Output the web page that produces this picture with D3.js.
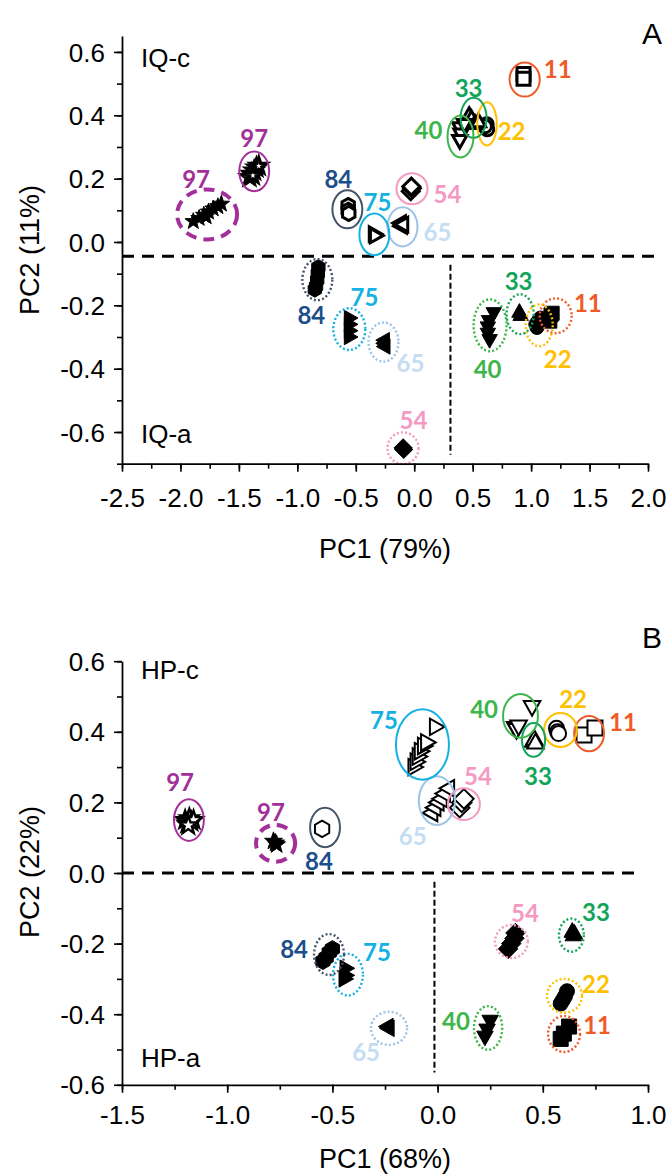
<!DOCTYPE html>
<html>
<head>
<meta charset="utf-8">
<script src="https://cdn.jsdelivr.net/npm/d3@7"></script>
<style>
  body { margin: 0; background: #fff; }
  svg { display: block; }
</style>
</head>
<body>
<svg id="chart" width="667" height="1176"></svg>
<script>
// ---- age groups ----
const ages = ["11", "22", "33", "40", "54", "65", "75", "84", "97"];
const markerShapes = ["square", "circle", "triUp", "triDown", "diamond", "triLeft", "triRight", "hexagon", "star"];
const labelColors = ["#F05A28", "#FFC000", "#12A55A", "#3DB54A", "#F49AC2", "#C5DDF2", "#14B2E2", "#1B4E8A", "#A3309A"];
const ringColors  = ["#EE5A2A", "#FFC000", "#12A55A", "#3DB54A", "#F49AC2", "#9DC3E6", "#14B2E2", "#44546A", "#A3309A"];

// ---- IQ scores: [age, state, PC1, PC2]; state c = IQ-c, d = second 97 set, a = IQ-a ----
const iqScores = [
  ["11","c",0.935,0.530],["11","c",0.935,0.515],
  ["22","c",0.620,0.372],["22","c",0.625,0.356],["22","c",0.605,0.365],
  ["33","c",0.470,0.400],["33","c",0.490,0.390],["33","c",0.520,0.375],["33","c",0.550,0.380],
  ["40","c",0.390,0.360],["40","c",0.400,0.340],["40","c",0.390,0.320],["40","c",0.430,0.370],
  ["54","c",-0.030,0.160],["54","c",-0.020,0.170],["54","c",-0.025,0.175],
  ["65","c",-0.120,0.060],["65","c",-0.110,0.050],["65","c",-0.100,0.055],
  ["75","c",-0.340,0.025],["75","c",-0.330,0.020],
  ["84","c",-0.565,0.115],["84","c",-0.565,0.100],["84","c",-0.560,0.090],
  ["97","c",-1.410,0.205],["97","c",-1.390,0.215],["97","c",-1.370,0.225],["97","c",-1.350,0.235],["97","c",-1.330,0.240],["97","c",-1.380,0.210],
  ["97","d",-1.890,0.065],["97","d",-1.840,0.075],["97","d",-1.800,0.085],["97","d",-1.760,0.095],["97","d",-1.720,0.105],["97","d",-1.680,0.112],["97","d",-1.650,0.120],["97","d",-1.780,0.080],
  ["11","a",1.170,-0.230],["11","a",1.160,-0.250],["11","a",1.180,-0.225],
  ["22","a",1.040,-0.260],["22","a",1.060,-0.250],["22","a",1.080,-0.240],["22","a",1.050,-0.270],
  ["33","a",0.900,-0.220],["33","a",0.910,-0.230],
  ["40","a",0.680,-0.225],["40","a",0.640,-0.250],["40","a",0.630,-0.270],["40","a",0.630,-0.290],["40","a",0.645,-0.310],
  ["54","a",-0.090,-0.655],["54","a",-0.095,-0.650],
  ["65","a",-0.260,-0.310],["65","a",-0.260,-0.320],["65","a",-0.255,-0.330],
  ["75","a",-0.550,-0.240],["75","a",-0.550,-0.260],["75","a",-0.550,-0.280],["75","a",-0.550,-0.300],
  ["84","a",-0.820,-0.080],["84","a",-0.825,-0.100],["84","a",-0.830,-0.120],["84","a",-0.840,-0.140],["84","a",-0.850,-0.150]
];

// ---- IQ group ellipses: [age, state, PC1, PC2, semi-axis PC1, semi-axis PC2] ----
const iqEllipses = [
  ["11","c",0.945,0.513,0.129,0.054],["22","c",0.623,0.373,0.083,0.068],["33","c",0.508,0.392,0.111,0.063],
  ["40","c",0.396,0.333,0.111,0.066],["54","c",-0.019,0.168,0.133,0.049],["65","c",-0.100,0.048,0.128,0.062],
  ["75","c",-0.341,0.024,0.128,0.066],["84","c",-0.572,0.103,0.128,0.060],["97","c",-1.369,0.223,0.128,0.063],
  ["97","d",-1.772,0.087,0.257,0.079],
  ["11","a",1.210,-0.233,0.137,0.055],["22","a",1.069,-0.263,0.116,0.066],["33","a",0.906,-0.228,0.116,0.063],
  ["40","a",0.649,-0.263,0.141,0.082],["54","a",-0.096,-0.651,0.133,0.050],["65","a",-0.263,-0.316,0.128,0.062],
  ["75","a",-0.555,-0.275,0.137,0.066],["84","a",-0.829,-0.119,0.128,0.065]
];

// ---- IQ group labels: [age, PC1, PC2] ----
const iqLabels = [
  ["11",1.227,0.548],["22",0.833,0.352],["33",0.465,0.488],["40",0.122,0.356],["54",0.285,0.154],
  ["65",0.199,0.034],["75",-0.315,0.128],["84",-0.649,0.201],["97",-1.369,0.330],["97",-1.866,0.201],
  ["11",1.485,-0.190],["22",1.227,-0.367],["33",0.893,-0.121],["40",0.628,-0.398],["54",-0.006,-0.562],
  ["65",-0.032,-0.382],["75",-0.426,-0.171],["84",-0.880,-0.228]
];

// ---- HP scores ----
const hpScores = [
  ["11","c",0.696,0.391],["11","c",0.748,0.411],
  ["22","c",0.565,0.410],["22","c",0.570,0.400],["22","c",0.575,0.395],
  ["33","c",0.455,0.375],["33","c",0.460,0.380],["33","c",0.465,0.370],
  ["40","c",0.449,0.470],["40","c",0.368,0.411],["40","c",0.375,0.405],["40","c",0.385,0.415],
  ["54","c",0.105,0.185],["54","c",0.115,0.200],["54","c",0.125,0.210],
  ["65","c",-0.030,0.170],["65","c",-0.015,0.185],["65","c",0.000,0.200],["65","c",0.015,0.210],["65","c",0.030,0.225],["65","c",0.050,0.240],
  ["75","c",-0.110,0.300],["75","c",-0.100,0.315],["75","c",-0.090,0.330],["75","c",-0.080,0.345],["75","c",-0.065,0.360],["75","c",-0.050,0.370],["75","c",-0.008,0.414],
  ["84","c",-0.549,0.125],
  ["97","c",-1.200,0.150],["97","c",-1.190,0.140],["97","c",-1.180,0.155],["97","c",-1.170,0.145],["97","c",-1.160,0.150],["97","c",-1.185,0.135],
  ["97","d",-0.780,0.090],["97","d",-0.770,0.085],["97","d",-0.765,0.080],
  ["11","a",0.585,-0.470],["11","a",0.600,-0.455],["11","a",0.625,-0.435],
  ["22","a",0.585,-0.370],["22","a",0.595,-0.360],["22","a",0.605,-0.350],["22","a",0.615,-0.335],
  ["33","a",0.640,-0.165],["33","a",0.645,-0.175],["33","a",0.650,-0.170],
  ["40","a",0.250,-0.420],["40","a",0.235,-0.445],["40","a",0.225,-0.465],
  ["54","a",0.335,-0.215],["54","a",0.350,-0.200],["54","a",0.365,-0.185],["54","a",0.370,-0.170],
  ["65","a",-0.240,-0.435],["65","a",-0.235,-0.440],
  ["75","a",-0.435,-0.270],["75","a",-0.435,-0.290],["75","a",-0.440,-0.300],
  ["84","a",-0.545,-0.250],["84","a",-0.530,-0.240],["84","a",-0.515,-0.225],["84","a",-0.500,-0.215]
];

const hpEllipses = [
  ["11","c",0.720,0.395,0.071,0.050],["22","c",0.584,0.405,0.078,0.048],["33","c",0.456,0.377,0.055,0.048],
  ["40","c",0.394,0.445,0.083,0.062],["54","c",0.125,0.195,0.076,0.045],["65","c",-0.003,0.205,0.086,0.069],
  ["75","c",-0.072,0.364,0.126,0.100],["84","c",-0.535,0.129,0.071,0.056],["97","c",-1.182,0.150,0.071,0.059],
  ["97","d",-0.770,0.084,0.093,0.052],
  ["11","a",0.601,-0.456,0.076,0.051],["22","a",0.603,-0.348,0.083,0.048],["33","a",0.636,-0.176,0.059,0.047],
  ["40","a",0.240,-0.439,0.067,0.062],["54","a",0.351,-0.194,0.078,0.047],["65","a",-0.231,-0.440,0.086,0.047],
  ["75","a",-0.426,-0.288,0.071,0.059],["84","a",-0.516,-0.231,0.071,0.058]
];

const hpLabels = [
  ["11",0.881,0.428],["22",0.644,0.493],["33",0.477,0.275],["40",0.221,0.465],["54",0.192,0.275],
  ["65",-0.118,0.105],["75",-0.255,0.436],["84",-0.564,0.034],["97",-1.224,0.258],["97",-0.792,0.173],
  ["11",0.758,-0.428],["22",0.753,-0.314],["33",0.753,-0.110],["40",0.087,-0.419],["54",0.415,-0.113],
  ["65",-0.340,-0.507],["75",-0.288,-0.221],["84",-0.682,-0.215]
];

// ---- axis ticks ----
const iqXTicks = [-2.5, -2.0, -1.5, -1.0, -0.5, 0.0, 0.5, 1.0, 1.5, 2.0];
const hpXTicks = [-1.5, -1.0, -0.5, 0.0, 0.5, 1.0];
const pcYTicks = [-0.6, -0.4, -0.2, 0.0, 0.2, 0.4, 0.6];

// ---- divider lines: horizontal PC2 level, vertical PC1 position and its PC2 extent ----
const iqDividers = { h: -0.045, v: 0.31, vFrom: -0.072, vTo: -0.672, hTo: 2.06 };
const hpDividers = { h: 0.0, v: -0.015, vFrom: -0.025, vTo: -0.565, hTo: 0.96 };

const panels = [
  { letter: "A", scores: iqScores, ellipses: iqEllipses, labels: iqLabels, dividers: iqDividers,
    xDomain: [-2.5, 2.0], yDomain: [-0.7, 0.65], xTicks: iqXTicks, yTicks: pcYTicks,
    xRange: [122, 648], yRange: [463.7, 36.1],
    xTitle: "PC1 (79%)", yTitle: "PC2 (11%)", tags: ["IQ-c", "IQ-a"],
    tagY: [67, 443], letterY: 44, xTitleY: 558, yTitleY: 250, tickLabelY: 507,
    openR: 6.5, openW: 3.0, starW: 3.4, fillR: 7 },
  { letter: "B", scores: hpScores, ellipses: hpEllipses, labels: hpLabels, dividers: hpDividers,
    xDomain: [-1.5, 1.0], yDomain: [-0.6, 0.6], xTicks: hpXTicks, yTicks: pcYTicks,
    xRange: [122, 648], yRange: [1084.8, 661.2],
    xTitle: "PC1 (68%)", yTitle: "PC2 (22%)", tags: ["HP-c", "HP-a"],
    tagY: [679, 1067], letterY: 648, xTitleY: 1168, yTitleY: 872, tickLabelY: 1124,
    openR: 7.5, openW: 2.0, starW: 2.4, fillR: 7.5 }
];

const svg = d3.select("#chart");
const axisFont = "'Liberation Sans', Arial, sans-serif";
const numFont = "Lato, 'Open Sans', sans-serif";
const tickFmt = d3.formatLocale({ decimal: ".", thousands: ",", grouping: [3], currency: ["", ""], minus: "-" }).format(".1f");

function ageIndex(a) { return ages.indexOf(a); }

// marker outlines centred on 0,0
function markerPath(shape, r) {
  const poly = pts => "M" + pts.map(p => p[0].toFixed(2) + "," + p[1].toFixed(2)).join("L") + "Z";
  switch (shape) {
    case "square": return poly([[-r, -r], [r, -r], [r, r], [-r, r]]);
    case "circle": return `M${r},0A${r},${r} 0 1,1 ${-r},0A${r},${r} 0 1,1 ${r},0Z`;
    case "triUp": return poly([[0, -r * 1.15], [r * 1.1, r * 0.8], [-r * 1.1, r * 0.8]]);
    case "triDown": return poly([[0, r * 1.15], [r * 1.1, -r * 0.8], [-r * 1.1, -r * 0.8]]);
    case "triLeft": return poly([[-r * 1.15, 0], [r * 0.8, -r * 1.1], [r * 0.8, r * 1.1]]);
    case "triRight": return poly([[r * 1.15, 0], [-r * 0.8, -r * 1.1], [-r * 0.8, r * 1.1]]);
    case "diamond": return poly([[0, -r * 1.3], [r * 1.3, 0], [0, r * 1.3], [-r * 1.3, 0]]);
    case "hexagon": return poly(d3.range(6).map(i => {
      const a = Math.PI / 3 * i - Math.PI / 2;
      return [r * 1.1 * Math.cos(a), r * 1.1 * Math.sin(a)];
    }));
    case "star": return poly(d3.range(10).map(i => {
      const a = Math.PI / 5 * i - Math.PI / 2, rr = i % 2 ? r * 0.5 : r * 1.25;
      return [rr * Math.cos(a), rr * Math.sin(a)];
    }));
  }
}

panels.forEach(p => {
  const x = d3.scaleLinear().domain(p.xDomain).range(p.xRange);
  const y = d3.scaleLinear().domain(p.yDomain).range(p.yRange);
  const g = svg.append("g");

  // divider lines
  const dv = p.dividers;
  g.append("line")
    .attr("x1", x(p.xDomain[0])).attr("x2", x(dv.hTo))
    .attr("y1", y(dv.h)).attr("y2", y(dv.h))
    .attr("stroke", "#000").attr("stroke-width", 3).attr("stroke-dasharray", "12,8");
  g.append("line")
    .attr("x1", x(dv.v)).attr("x2", x(dv.v))
    .attr("y1", y(dv.vFrom)).attr("y2", y(dv.vTo))
    .attr("stroke", "#000").attr("stroke-width", 2).attr("stroke-dasharray", "6,3");

  // markers: IQ-a / HP-a and the second 97 set are solid, the rest open
  const solid = d => d[1] !== "c";
  g.append("g").selectAll("path")
    .data(p.scores)
    .join("path")
    .attr("transform", d => `translate(${x(d[2])},${y(d[3])})`)
    .attr("d", d => markerPath(markerShapes[ageIndex(d[0])], solid(d) ? p.fillR : p.openR))
    .attr("fill", d => solid(d) ? "#000" : "#fff")
    .attr("stroke", "#000")
    .attr("stroke-linejoin", "miter")
    .attr("stroke-width", d => solid(d) ? 1 : (d[0] === "97" ? p.starW : p.openW));

  // group ellipses
  g.append("g").selectAll("ellipse")
    .data(p.ellipses)
    .join("ellipse")
    .attr("cx", d => x(d[2])).attr("cy", d => y(d[3]))
    .attr("rx", d => x(d[2] + d[4]) - x(d[2]))
    .attr("ry", d => y(d[3]) - y(d[3] + d[5]))
    .attr("fill", "none")
    .attr("stroke", d => ringColors[ageIndex(d[0])])
    .attr("stroke-width", d => d[1] === "d" ? 4 : (d[1] === "a" ? 2.4 : 2))
    .attr("stroke-dasharray", d => d[1] === "d" ? "11,7" : (d[1] === "a" ? "2,2.2" : null));

  // group labels
  g.append("g").selectAll("text")
    .data(p.labels)
    .join("text")
    .attr("x", d => x(d[1])).attr("y", d => y(d[2]))
    .attr("text-anchor", "middle").attr("dominant-baseline", "central")
    .attr("font-family", numFont).attr("font-weight", 700).attr("font-size", 24)
    .attr("fill", d => labelColors[ageIndex(d[0])])
    .text(d => d[0]);

  // axes
  const xMinor = d3.range(p.xDomain[0], p.xDomain[1] + 1e-9, 0.25);
  const yMinor = d3.range(-0.7, 0.65, 0.1).filter(v => v >= p.yDomain[0] - 1e-9 && v <= p.yDomain[1] + 1e-9);
  const xAxisY = y(p.yDomain[0]);
  const yAxisX = x(p.xDomain[0]);

  const gxMinor = g.append("g").attr("transform", `translate(0,${xAxisY})`)
    .call(d3.axisBottom(x).tickValues(xMinor).tickSize(5).tickSizeOuter(0).tickFormat(""));
  const gyMinor = g.append("g").attr("transform", `translate(${yAxisX},0)`)
    .call(d3.axisLeft(y).tickValues(yMinor).tickSize(5).tickSizeOuter(0).tickFormat(""));
  [gxMinor, gyMinor].forEach(a => a.select(".domain").remove());

  const gx = g.append("g").attr("transform", `translate(0,${xAxisY})`)
    .call(d3.axisBottom(x).tickValues(p.xTicks).tickSize(8).tickSizeOuter(0).tickFormat(tickFmt));
  const gy = g.append("g").attr("transform", `translate(${yAxisX},0)`)
    .call(d3.axisLeft(y).tickValues(p.yTicks).tickSize(8).tickSizeOuter(0).tickPadding(9).tickFormat(tickFmt));
  [gx, gy, gxMinor, gyMinor].forEach(a => {
    a.selectAll("line").attr("stroke", "#000").attr("stroke-width", 1.6);
    a.select(".domain").attr("stroke", "#000").attr("stroke-width", 1.8);
    a.selectAll("text").attr("font-family", axisFont).attr("font-size", 26).attr("fill", "#000");
  });
  gy.selectAll("text").attr("dy", "0.35em");
  gx.selectAll(".tick text").attr("dy", null).attr("y", p.tickLabelY - xAxisY);

  // titles
  g.append("text")
    .attr("x", (p.xRange[0] + p.xRange[1]) / 2).attr("y", p.xTitleY)
    .attr("text-anchor", "middle")
    .attr("font-family", axisFont).attr("font-size", 27)
    .text(p.xTitle);
  g.append("text")
    .attr("transform", `translate(30,${p.yTitleY}) rotate(-90)`)
    .attr("text-anchor", "middle").attr("dominant-baseline", "central")
    .attr("font-family", axisFont).attr("font-size", 27)
    .text(p.yTitle);

  g.selectAll("text.tag")
    .data(p.tags)
    .join("text").attr("class", "tag")
    .attr("x", 141).attr("y", (d, i) => p.tagY[i])
    .attr("font-family", axisFont).attr("font-size", 26)
    .text(d => d);

  g.append("text")
    .attr("x", 662).attr("y", p.letterY)
    .attr("text-anchor", "end")
    .attr("font-family", axisFont).attr("font-size", 30)
    .text(p.letter);
});
</script>
</body>
</html>
